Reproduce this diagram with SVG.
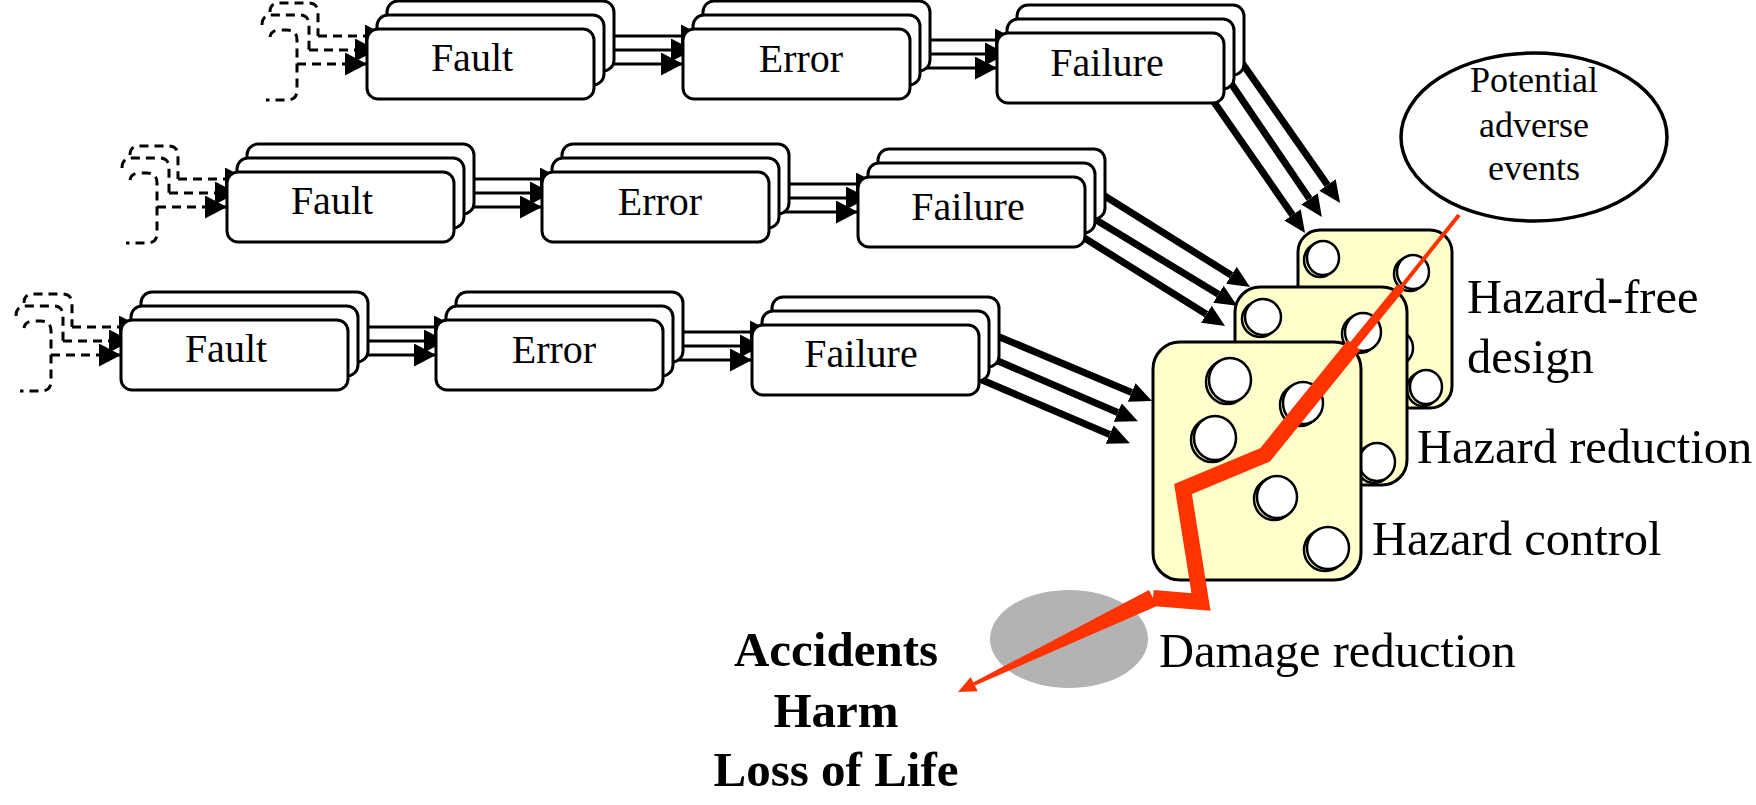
<svg xmlns="http://www.w3.org/2000/svg" width="1756" height="805" viewBox="0 0 1756 805">
<defs>
<style>
.box{fill:#fff;stroke:#000;stroke-width:3}
.lbl{font-family:"Liberation Serif","Times New Roman",serif;font-size:40px;fill:#000;text-anchor:middle}
.ln{stroke:#000;stroke-width:3;fill:none;marker-end:url(#ah)}
.dash{stroke:#000;stroke-width:3;fill:none;stroke-dasharray:9 6}
.darr{stroke:#000;stroke-width:3;fill:none;stroke-dasharray:9 6;marker-end:url(#ah)}
.thick{stroke:#000;stroke-width:7;fill:none;marker-end:url(#bh)}
.die{fill:#FFFFCC;stroke:#000;stroke-width:3}
.hole{fill:#fff;stroke:#000;stroke-width:2.5}
.hs{fill:none;stroke:#000;stroke-width:2.5}
.big{font-family:"Liberation Serif","Times New Roman",serif;font-size:48.5px;fill:#000}
.pot{font-family:"Liberation Serif","Times New Roman",serif;font-size:36px;fill:#000;text-anchor:middle}
.bold{font-family:"Liberation Serif","Times New Roman",serif;font-size:49px;font-weight:bold;fill:#000;text-anchor:middle}
.red{stroke:#FF3300;fill:none}
</style>
<marker id="ah" markerUnits="userSpaceOnUse" markerWidth="24" markerHeight="24" refX="22" refY="11.5" orient="auto"><path d="M0,0 L22,11.5 L0,23 z" fill="#000"/></marker>
<marker id="bh" markerUnits="userSpaceOnUse" markerWidth="24" markerHeight="22" refX="0" refY="10" orient="auto"><path d="M0,0 L22,10 L0,20 z" fill="#000"/></marker>
</defs>

<g id="connectors">
  <!-- row 1 -->
  <line class="ln" x1="610" y1="36" x2="703" y2="36"/>
  <line class="ln" x1="600" y1="50" x2="693" y2="50"/>
  <line class="ln" x1="590" y1="64" x2="683" y2="64"/>
  <line class="ln" x1="926" y1="40" x2="1017" y2="40"/>
  <line class="ln" x1="916" y1="54" x2="1007" y2="54"/>
  <line class="ln" x1="906" y1="68" x2="997" y2="68"/>
  <!-- row 2 -->
  <line class="ln" x1="470" y1="179" x2="562" y2="179"/>
  <line class="ln" x1="460" y1="193" x2="552" y2="193"/>
  <line class="ln" x1="450" y1="207" x2="542" y2="207"/>
  <line class="ln" x1="785" y1="184" x2="878" y2="184"/>
  <line class="ln" x1="775" y1="198" x2="868" y2="198"/>
  <line class="ln" x1="765" y1="212" x2="858" y2="212"/>
  <!-- row 3 -->
  <line class="ln" x1="364" y1="327" x2="456" y2="327"/>
  <line class="ln" x1="354" y1="341" x2="446" y2="341"/>
  <line class="ln" x1="344" y1="355" x2="436" y2="355"/>
  <line class="ln" x1="679" y1="332" x2="772" y2="332"/>
  <line class="ln" x1="669" y1="346" x2="762" y2="346"/>
  <line class="ln" x1="659" y1="360" x2="752" y2="360"/>
  <!-- incoming dashed arrows -->
  <g transform="translate(367,29)">
    <path class="darr" d="M-49,7 H20"/>
    <path class="darr" d="M-58,21 H10"/>
    <path class="darr" d="M-70,35 H0"/>
  </g>
  <g transform="translate(227,172)">
    <path class="darr" d="M-49,7 H20"/>
    <path class="darr" d="M-58,21 H10"/>
    <path class="darr" d="M-70,35 H0"/>
  </g>
  <g transform="translate(121,320)">
    <path class="darr" d="M-49,7 H20"/>
    <path class="darr" d="M-58,21 H10"/>
    <path class="darr" d="M-70,35 H0"/>
  </g>
  <!-- thick arrows to barriers -->
  <line class="thick" x1="1240" y1="60" x2="1327.5" y2="184.9"/>
  <line class="thick" x1="1224" y1="73" x2="1309.5" y2="198.9"/>
  <line class="thick" x1="1207" y1="92" x2="1292.5" y2="214.9"/>
  <line class="thick" x1="1100" y1="193" x2="1231.4" y2="275.3"/>
  <line class="thick" x1="1088" y1="215" x2="1218.4" y2="294.3"/>
  <line class="thick" x1="1078" y1="234" x2="1206.4" y2="314.3"/>
  <line class="thick" x1="990" y1="333" x2="1131.7" y2="392.5"/>
  <line class="thick" x1="984" y1="355" x2="1117.7" y2="412.5"/>
  <line class="thick" x1="975" y1="377" x2="1109.7" y2="434.5"/>
</g>

<g id="prior-row1" transform="translate(367,29)">
  <path class="dash" d="M-97,-17 Q-97,-26 -88,-26 H-59 Q-49,-26 -49,-16 V7"/>
  <path class="dash" d="M-105,-4 Q-105,-14 -95,-14 H-68 Q-58,-14 -58,-4 V21"/>
  <path class="dash" d="M-97,8 Q-96,1 -87,1 H-80 Q-70,1 -70,11 V61 Q-70,71 -80,71 H-101"/>
</g>
<g id="prior-row2" transform="translate(227,172)">
  <path class="dash" d="M-97,-17 Q-97,-26 -88,-26 H-59 Q-49,-26 -49,-16 V7"/>
  <path class="dash" d="M-105,-4 Q-105,-14 -95,-14 H-68 Q-58,-14 -58,-4 V21"/>
  <path class="dash" d="M-97,8 Q-96,1 -87,1 H-80 Q-70,1 -70,11 V61 Q-70,71 -80,71 H-101"/>
</g>
<g id="prior-row3" transform="translate(121,320)">
  <path class="dash" d="M-97,-17 Q-97,-26 -88,-26 H-59 Q-49,-26 -49,-16 V7"/>
  <path class="dash" d="M-105,-4 Q-105,-14 -95,-14 H-68 Q-58,-14 -58,-4 V21"/>
  <path class="dash" d="M-97,8 Q-96,1 -87,1 H-80 Q-70,1 -70,11 V61 Q-70,71 -80,71 H-101"/>
</g>

<g id="r1-fault">
  <rect class="box" x="387" y="1" width="227" height="70" rx="11"/>
  <rect class="box" x="377" y="15" width="227" height="70" rx="11"/>
  <rect class="box" x="367" y="29" width="227" height="70" rx="11"/>
  <text class="lbl" x="472" y="71">Fault</text>
</g>
<g id="r1-error">
  <rect class="box" x="703" y="1" width="227" height="70" rx="11"/>
  <rect class="box" x="693" y="15" width="227" height="70" rx="11"/>
  <rect class="box" x="683" y="29" width="227" height="70" rx="11"/>
  <text class="lbl" x="801" y="72">Error</text>
</g>
<g id="r1-failure">
  <rect class="box" x="1017" y="5" width="227" height="70" rx="11"/>
  <rect class="box" x="1007" y="19" width="227" height="70" rx="11"/>
  <rect class="box" x="997" y="33" width="227" height="70" rx="11"/>
  <text class="lbl" x="1107" y="76">Failure</text>
</g>
<g id="r2-fault">
  <rect class="box" x="247" y="144" width="227" height="70" rx="11"/>
  <rect class="box" x="237" y="158" width="227" height="70" rx="11"/>
  <rect class="box" x="227" y="172" width="227" height="70" rx="11"/>
  <text class="lbl" x="332" y="214">Fault</text>
</g>
<g id="r2-error">
  <rect class="box" x="562" y="144" width="227" height="70" rx="11"/>
  <rect class="box" x="552" y="158" width="227" height="70" rx="11"/>
  <rect class="box" x="542" y="172" width="227" height="70" rx="11"/>
  <text class="lbl" x="660" y="215">Error</text>
</g>
<g id="r2-failure">
  <rect class="box" x="878" y="149" width="227" height="70" rx="11"/>
  <rect class="box" x="868" y="163" width="227" height="70" rx="11"/>
  <rect class="box" x="858" y="177" width="227" height="70" rx="11"/>
  <text class="lbl" x="968" y="220">Failure</text>
</g>
<g id="r3-fault">
  <rect class="box" x="141" y="292" width="227" height="70" rx="11"/>
  <rect class="box" x="131" y="306" width="227" height="70" rx="11"/>
  <rect class="box" x="121" y="320" width="227" height="70" rx="11"/>
  <text class="lbl" x="226" y="362">Fault</text>
</g>
<g id="r3-error">
  <rect class="box" x="456" y="292" width="227" height="70" rx="11"/>
  <rect class="box" x="446" y="306" width="227" height="70" rx="11"/>
  <rect class="box" x="436" y="320" width="227" height="70" rx="11"/>
  <text class="lbl" x="554" y="363">Error</text>
</g>
<g id="r3-failure">
  <rect class="box" x="772" y="297" width="227" height="70" rx="11"/>
  <rect class="box" x="762" y="311" width="227" height="70" rx="11"/>
  <rect class="box" x="752" y="325" width="227" height="70" rx="11"/>
  <text class="lbl" x="861" y="367">Failure</text>
</g>

<g id="potential">
  <ellipse cx="1534" cy="137" rx="133" ry="84" fill="#fff" stroke="#000" stroke-width="3.5"/>
  <text class="pot" x="1534" y="92">Potential</text>
  <text class="pot" x="1534" y="137">adverse</text>
  <text class="pot" x="1534" y="180">events</text>
</g>

<g id="damage">
  <ellipse cx="1069" cy="639" rx="79" ry="49" fill="#B3B3B3"/>
  <text class="big" x="1159" y="667">Damage reduction</text>
</g>

<g id="hazard-free">
  <rect class="die" x="1298" y="230" width="154" height="178" rx="22"/>
  <ellipse class="hs" cx="1320" cy="260" rx="16" ry="17"/><ellipse class="hole" cx="1323" cy="258" rx="16" ry="17"/>
  <ellipse class="hs" cx="1410" cy="274" rx="16" ry="17"/><ellipse class="hole" cx="1413" cy="272" rx="16" ry="17"/>
  <ellipse class="hs" cx="1394" cy="350" rx="16" ry="17"/><ellipse class="hole" cx="1397" cy="348" rx="16" ry="17"/>
  <ellipse class="hs" cx="1423" cy="389" rx="16" ry="17"/><ellipse class="hole" cx="1426" cy="387" rx="16" ry="17"/>
  <text class="big" x="1467" y="313">Hazard-free</text>
  <text class="big" x="1467" y="373">design</text>
</g>
<line class="red" x1="1459" y1="215" x2="1394" y2="296" stroke-width="4"/>

<g id="hazard-reduction">
  <rect class="die" x="1235" y="287" width="172" height="198" rx="25"/>
  <ellipse class="hs" cx="1260" cy="319" rx="18" ry="18"/><ellipse class="hole" cx="1263" cy="317" rx="18" ry="18"/>
  <ellipse class="hs" cx="1360" cy="334" rx="18" ry="19"/><ellipse class="hole" cx="1363" cy="332" rx="18" ry="19"/>
  <ellipse class="hs" cx="1374" cy="464" rx="18" ry="19"/><ellipse class="hole" cx="1377" cy="462" rx="18" ry="19"/>
  <text class="big" x="1417" y="463">Hazard reduction</text>
</g>
<line class="red" x1="1401" y1="287" x2="1343" y2="358" stroke-width="9"/>

<g id="hazard-control">
  <rect class="die" x="1153" y="342" width="208" height="238" rx="27"/>
  <ellipse class="hs" cx="1227" cy="382" rx="21" ry="22"/><ellipse class="hole" cx="1230" cy="380" rx="21" ry="22"/>
  <ellipse class="hs" cx="1300" cy="405" rx="20" ry="21"/><ellipse class="hole" cx="1303" cy="403" rx="20" ry="21"/>
  <ellipse class="hs" cx="1212" cy="440" rx="21" ry="22"/><ellipse class="hole" cx="1215" cy="438" rx="21" ry="22"/>
  <ellipse class="hs" cx="1274" cy="499" rx="20" ry="21"/><ellipse class="hole" cx="1277" cy="497" rx="20" ry="21"/>
  <ellipse class="hs" cx="1325" cy="550" rx="21" ry="21"/><ellipse class="hole" cx="1328" cy="548" rx="21" ry="21"/>
  <text class="big" x="1372" y="555">Hazard control</text>
</g>

<g id="hazard-path">
  <polyline class="red" points="1354,345 1265,455 1183,489 1201,602 1153,598" stroke-width="16" stroke-linejoin="miter"/>
  <polygon points="1149,590 1157,606 975,685.5 973,682.5" fill="#FF3300"/>
  <polygon points="958,692 977.7,691.3 970.7,676.9" fill="#FF3300"/>
</g>

<g id="outcome">
  <text class="bold" x="836" y="666">Accidents</text>
  <text class="bold" x="836" y="727">Harm</text>
  <text class="bold" x="836" y="786">Loss of Life</text>
</g>
</svg>
